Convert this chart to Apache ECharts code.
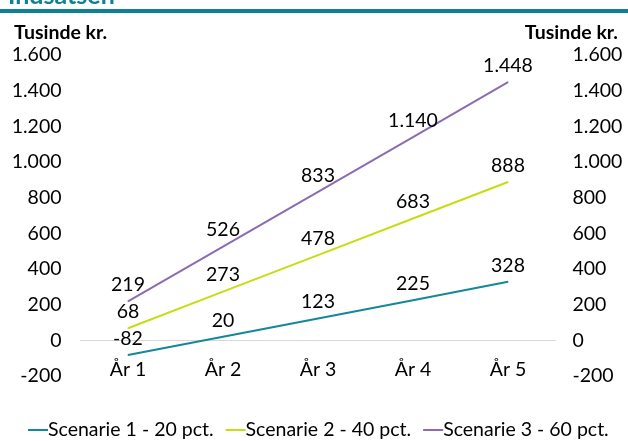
<!DOCTYPE html>
<html><head><meta charset="utf-8">
<script src="https://cdn.jsdelivr.net/npm/echarts@6/dist/echarts.min.js"></script>
<style>html,body{margin:0;padding:0;background:#fff}#c{width:628px;height:441px}</style>
</head><body><div id="c"></div>
<script>
const categories = ['År 1','År 2','År 3','År 4','År 5'];
const scenario1 = [-82, 20, 123, 225, 328];
const scenario2 = [68, 273, 478, 683, 888];
const scenario3 = [219, 526, 833, 1140, 1448];
const seriesNames = ['Scenarie 1 - 20 pct.','Scenarie 2 - 40 pct.','Scenarie 3 - 60 pct.'];
const colors = ['#13889a','#c8dc12','#8b6cb3'];
const FONT = 'Lato';
const FS = 19.5;
function fmt(v){
  const s = Math.abs(v).toString().replace(/\B(?=(\d{3})+(?!\d))/g,'.');
  return (v<0?'-':'')+s;
}
const chart = echarts.init(document.getElementById('c'));
function mk(name, data, color){
  return {name, type:'line', data, symbol:'circle', symbolSize:1, showSymbol:true,
    itemStyle:{color}, color,
    lineStyle:{width:2, color},
    label:{show:true, position:'top', distance:6, color:'#000', fontFamily:FONT, fontSize:FS,
      formatter:p=>fmt(p.value)}};
}
chart.setOption({
  animation:false,
  textStyle:{fontFamily:FONT},
  graphic:[
    {type:'text', x:8, y:-17, z:10, style:{text:'Indsatsen', fontFamily:FONT, fontWeight:'bold', fontSize:25, fill:'#0e8196'}},
    {type:'rect', shape:{x:0,y:9,width:628,height:4}, style:{fill:'#0e8196'}},
    {type:'text', left:14, top:23, style:{text:'Tusinde kr.', fontFamily:FONT, fontWeight:'bold', fontSize:FS, fill:'#000'}},
    {type:'text', right:10, top:23, style:{text:'Tusinde kr.', fontFamily:FONT, fontWeight:'bold', fontSize:FS, fill:'#000'}}
  ],
  grid:{left:80.5, right:72.5, top:55, bottom:65},
  legend:{top:420, left:28, padding:0, itemWidth:20, itemGap:12, itemHeight:2,
    icon:'rect',
    textStyle:{fontFamily:FONT, fontSize:FS, color:'#000', padding:[0,0,0,-5]},
    data:seriesNames},
  xAxis:{type:'category', data:categories, boundaryGap:true,
    axisLine:{onZero:true, lineStyle:{color:'#d9d9d9', width:1}},
    axisTick:{show:false},
    axisLabel:{color:'#000', fontFamily:FONT, fontSize:FS, margin:-16}},
  yAxis:[
    {type:'value', min:-200, max:1600, interval:200, position:'left',
      splitLine:{show:false}, axisLine:{show:false}, axisTick:{show:false},
      axisLabel:{color:'#000', fontFamily:FONT, fontSize:FS, margin:19, formatter:fmt}},
    {type:'value', min:-200, max:1600, interval:200, position:'right',
      splitLine:{show:false}, axisLine:{show:false}, axisTick:{show:false},
      axisLabel:{color:'#000', fontFamily:FONT, fontSize:FS, margin:17, formatter:fmt}}
  ],
  series:[
    mk(seriesNames[0], scenario1, colors[0]),
    mk(seriesNames[1], scenario2, colors[1]),
    mk(seriesNames[2], scenario3, colors[2])
  ]
});
</script></body></html>
